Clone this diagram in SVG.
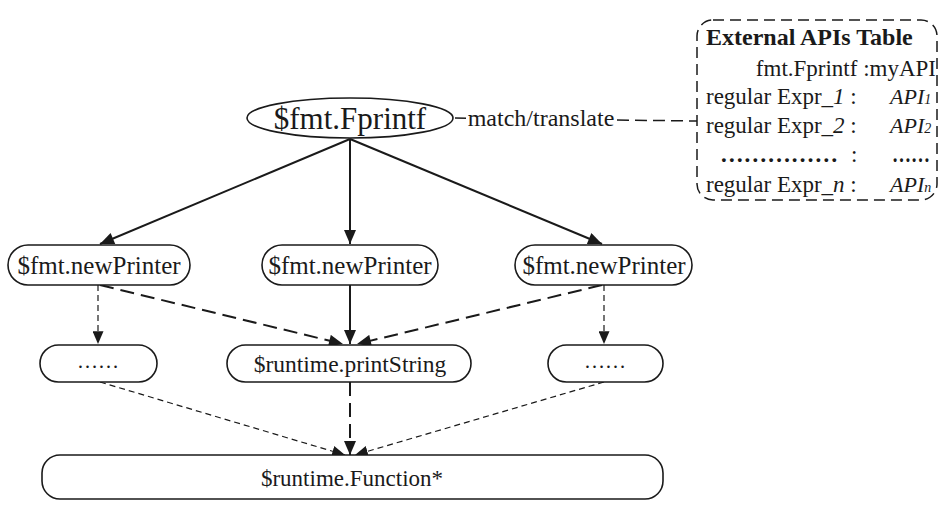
<svg xmlns="http://www.w3.org/2000/svg" width="940" height="510" viewBox="0 0 940 510" font-family="'Liberation Serif','Times New Roman','DejaVu Serif',serif">
<style>
text{font-family:'Liberation Serif','Times New Roman','DejaVu Serif',serif;fill:#1a1a1a}
.node{fill:#fff;stroke:#1a1a1a;stroke-width:1.6}
.lbl{font-size:25px;text-anchor:middle;dominant-baseline:central}
.solid{stroke:#1a1a1a;stroke-width:2;fill:none}
.ldash{stroke:#1a1a1a;stroke-width:2;fill:none;stroke-dasharray:14 7}
.sdash{stroke:#1a1a1a;stroke-width:1.2;fill:none;stroke-dasharray:6 4}
.tbl{font-size:23px}
.api{font-size:22px;font-style:italic}
</style>
<defs>
<marker id="ah" viewBox="0 0 14 12" refX="14" refY="6" markerWidth="15" markerHeight="12" markerUnits="userSpaceOnUse" orient="auto">
<path d="M0,0 L14,6 L0,12 Z" fill="#1a1a1a"/>
</marker>
<marker id="ahs" viewBox="0 0 14 12" refX="14" refY="6" markerWidth="13" markerHeight="11" markerUnits="userSpaceOnUse" orient="auto">
<path d="M0,0 L14,6 L0,12 Z" fill="#1a1a1a"/>
</marker>
</defs>
<g id="connectors">
<line x1="455" y1="118" x2="697" y2="121" style="stroke:#1a1a1a;stroke-width:1.5;stroke-dasharray:12 6"/>
<line class="solid" x1="350" y1="139" x2="100" y2="244" marker-end="url(#ah)"/>
<line class="solid" x1="350" y1="139" x2="350" y2="244" marker-end="url(#ah)"/>
<line class="solid" x1="350" y1="139" x2="602" y2="244" marker-end="url(#ah)"/>
<line class="sdash" x1="98" y1="285" x2="98" y2="344" marker-end="url(#ahs)"/>
<line class="sdash" x1="604" y1="285" x2="604" y2="344" marker-end="url(#ahs)"/>
<line class="ldash" x1="100" y1="285" x2="343" y2="344" marker-end="url(#ah)"/>
<line class="solid" x1="350" y1="285" x2="350" y2="344" marker-end="url(#ah)"/>
<line class="ldash" x1="602" y1="285" x2="357" y2="344" marker-end="url(#ah)"/>
<line class="sdash" x1="100" y1="382" x2="345" y2="455" marker-end="url(#ahs)"/>
<line class="ldash" x1="350" y1="382" x2="350" y2="455" marker-end="url(#ah)"/>
<line class="sdash" x1="604" y1="382" x2="355" y2="455" marker-end="url(#ahs)"/>
</g>
<g id="edge-label">
<rect x="466" y="104" width="150" height="28" fill="#fff"/>
<text x="541" y="118" class="lbl" style="font-size:24px">match/translate</text>
</g>
<g id="n-fprintf">
<ellipse class="node" cx="350" cy="118" rx="103" ry="20"/>
<text x="350" y="118" class="lbl" style="font-size:31px">$fmt.Fprintf</text>
</g>
<g id="n-printer-left">
<rect class="node" x="8" y="245" width="182" height="40" rx="20"/>
<text x="99" y="265" class="lbl">$fmt.newPrinter</text>
</g>
<g id="n-printer-mid">
<rect class="node" x="262" y="245" width="176" height="40" rx="20"/>
<text x="350" y="265" class="lbl">$fmt.newPrinter</text>
</g>
<g id="n-printer-right">
<rect class="node" x="515" y="245" width="177" height="40" rx="20"/>
<text x="604" y="265" class="lbl">$fmt.newPrinter</text>
</g>
<g id="n-dots-left">
<rect class="node" x="40" y="345" width="117" height="37" rx="18.5"/>
<text x="98" y="361" class="lbl" style="font-size:21px">……</text>
</g>
<g id="n-printstring">
<rect class="node" x="227" y="345" width="244" height="37" rx="18.5"/>
<text x="350" y="364" class="lbl" style="font-size:23.5px">$runtime.printString</text>
</g>
<g id="n-dots-right">
<rect class="node" x="548" y="345" width="115" height="37" rx="18.5"/>
<text x="605" y="361" class="lbl" style="font-size:21px">……</text>
</g>
<g id="n-function">
<rect class="node" x="42" y="455" width="621" height="44" rx="18"/>
<text x="352" y="478" class="lbl" style="font-size:23px">$runtime.Function*</text>
</g>
<g id="api-table">
<rect x="697" y="20" width="240" height="180" rx="16" fill="#fff" stroke="#1a1a1a" stroke-width="1.5" stroke-dasharray="11 6"/>
<text x="706" y="45" style="font-size:24px;font-weight:bold">External APIs Table</text>
<text x="936" y="76" class="tbl" text-anchor="end">fmt.Fprintf :myAPI</text>
<text x="706" y="104" class="tbl">regular Expr_<tspan font-style="italic">1</tspan> :</text>
<text x="890" y="104" class="api">API<tspan font-size="14">1</tspan></text>
<text x="706" y="133" class="tbl">regular Expr_<tspan font-style="italic">2</tspan> :</text>
<text x="890" y="133" class="api">API<tspan font-size="14">2</tspan></text>
<text x="720" y="162" class="tbl" font-weight="bold" textLength="118" lengthAdjust="spacingAndGlyphs">……………</text>
<text x="851" y="162" class="tbl">:</text>
<text x="892" y="162" class="tbl" font-weight="bold" textLength="38" lengthAdjust="spacingAndGlyphs">……</text>
<text x="706" y="192" class="tbl">regular Expr_<tspan font-style="italic">n</tspan> :</text>
<text x="890" y="192" class="api">API<tspan font-size="14">n</tspan></text>
</g>
</svg>
